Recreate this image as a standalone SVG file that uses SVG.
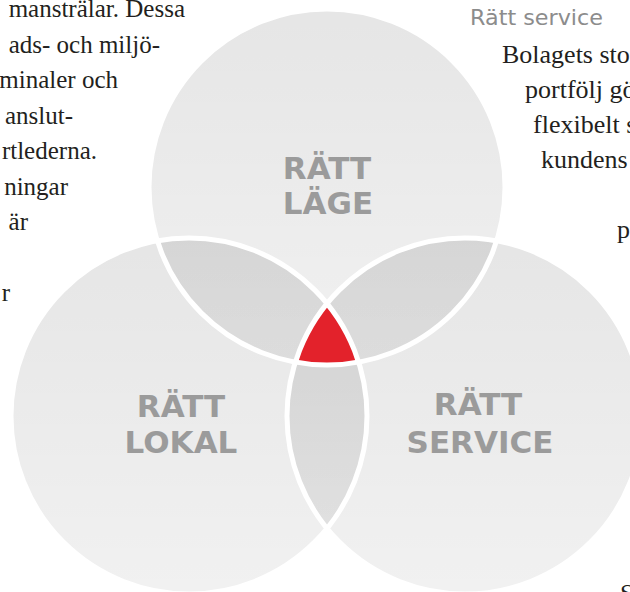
<svg xmlns="http://www.w3.org/2000/svg" width="630" height="592" viewBox="0 0 630 592">
<defs>
<linearGradient id="shade" x1="0" y1="0" x2="0" y2="1">
<stop offset="0" stop-color="#000" stop-opacity="0.1"/>
<stop offset="1" stop-color="#000" stop-opacity="0.055"/>
</linearGradient>
<style>
.disc{fill:url(#shade);}
.ring{fill:none;stroke:#fff;stroke-width:5;}
.lbl{font-family:"DejaVu Sans",sans-serif;font-weight:bold;font-size:31px;fill:#9b9b9b;text-anchor:middle;}
.body{font-family:"Liberation Serif","Times New Roman",serif;font-size:25px;fill:#231f20;}
.wide{font-size:26px;}
.end{text-anchor:end;}
.head{font-family:"DejaVu Sans",sans-serif;font-size:21px;fill:#8c8c8c;}
</style>
</defs>
<rect width="630" height="592" fill="#fff"/>
<g id="text-left" class="body end">
<text x="185" y="17">mansträlar. Dessa</text>
<text x="160" y="52.5">ads- och miljö-</text>
<text x="118" y="88">minaler och</text>
<text x="73" y="123.5">anslut-</text>
<text x="97" y="159">rtlederna.</text>
<text x="68" y="194.5">ningar</text>
<text x="28" y="230">är</text>
<text x="10" y="301">r</text>
</g>
<g id="text-right">
<text class="head" x="470" y="25" textLength="133" lengthAdjust="spacingAndGlyphs">Rätt service</text>
<g class="body wide">
<text x="502" y="63">Bolagets sto</text>
<text x="525" y="98">portfölj gö</text>
<text x="533" y="133">flexibelt s</text>
<text x="541" y="168">kundens</text>
<text x="617" y="238">p</text>
<text x="620" y="602">S</text>
</g>
</g>
<g id="node-lage">
<circle class="disc" cx="327" cy="187" r="178"/>
</g>
<g id="node-lokal">
<circle class="disc" cx="189" cy="416" r="178"/>
</g>
<g id="node-service">
<circle class="disc" cx="465" cy="416" r="178"/>
</g>
<path id="center" d="M327,303.6 A178,178 0 0,1 358.6,362.1 A178,178 0 0,1 295.4,362.1 A178,178 0 0,1 327,303.6 Z" fill="#e3222b"/>
<g id="outlines" class="ring">
<circle cx="327" cy="187" r="178"/>
<circle cx="189" cy="416" r="178"/>
<circle cx="465" cy="416" r="178"/>
</g>
<g id="labels" class="lbl">
<text x="327" y="179">RÄTT</text>
<text x="328" y="214">LÄGE</text>
<text x="181" y="417">RÄTT</text>
<text x="181" y="453">LOKAL</text>
<text x="478" y="415">RÄTT</text>
<text x="480" y="453">SERVICE</text>
</g>
</svg>
